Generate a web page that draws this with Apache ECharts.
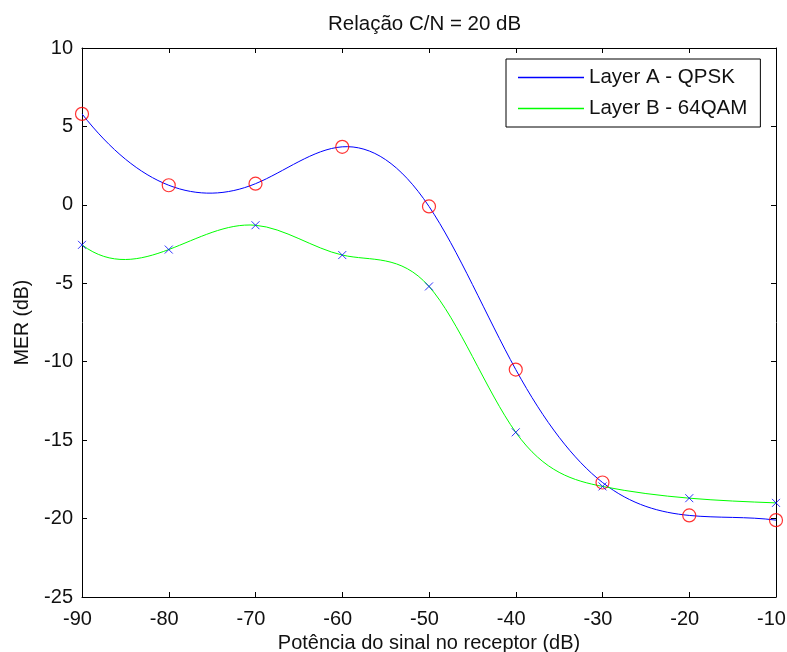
<!DOCTYPE html>
<html>
<head>
<meta charset="utf-8">
<script src="https://cdn.jsdelivr.net/npm/echarts@6/dist/echarts.min.js"></script>
<style>
  html, body { margin: 0; padding: 0; background: #fff; }
  #chart { width: 787px; height: 652px; }
</style>
</head>
<body>
<div id="chart"></div>
<script>
// Received signal power (dB) on the x axis
const potencia = [-90, -80, -70, -60, -50, -40, -30, -20, -10];
// MER (dB) measured for each hierarchical layer
const layerA = [5.8, 1.25, 1.35, 3.7, -0.1, -10.5, -17.7, -19.8, -20.1];
const layerB = [-2.55, -2.85, -1.3, -3.2, -5.2, -14.5, -17.95, -18.7, -19.0];

const nomeA = 'Layer A - QPSK';
const nomeB = 'Layer B - 64QAM';

const pares = (ys) => potencia.map((x, i) => [x, ys[i]]);

// Node slopes of a not-a-knot cubic spline (Hermite form), so each segment
// can be drawn as one cubic Bezier through the measured points.
function declives(xs, ys) {
  const n = xs.length;
  const h = [], d = [];
  for (let i = 0; i < n - 1; i++) { h.push(xs[i + 1] - xs[i]); d.push((ys[i + 1] - ys[i]) / h[i]); }
  const A = [], b = [];
  for (let i = 0; i < n; i++) { A.push(new Array(n).fill(0)); b.push(0); }
  // left end: third derivative continuous at the second node
  A[0][0] = 1 / (h[0] * h[0]); A[0][1] = 1 / (h[0] * h[0]) - 1 / (h[1] * h[1]); A[0][2] = -1 / (h[1] * h[1]);
  b[0] = 2 * d[0] / (h[0] * h[0]) - 2 * d[1] / (h[1] * h[1]);
  for (let i = 1; i < n - 1; i++) {
    A[i][i - 1] = h[i]; A[i][i] = 2 * (h[i - 1] + h[i]); A[i][i + 1] = h[i - 1];
    b[i] = 3 * (h[i] * d[i - 1] + h[i - 1] * d[i]);
  }
  // right end: same condition at the second-to-last node
  const p = n - 3, q = n - 2;
  A[n - 1][n - 3] = 1 / (h[p] * h[p]); A[n - 1][n - 2] = 1 / (h[p] * h[p]) - 1 / (h[q] * h[q]); A[n - 1][n - 1] = -1 / (h[q] * h[q]);
  b[n - 1] = 2 * d[p] / (h[p] * h[p]) - 2 * d[q] / (h[q] * h[q]);
  // Gaussian elimination with partial pivoting
  for (let c = 0; c < n; c++) {
    let piv = c;
    for (let r = c + 1; r < n; r++) if (Math.abs(A[r][c]) > Math.abs(A[piv][c])) piv = r;
    [A[c], A[piv]] = [A[piv], A[c]]; [b[c], b[piv]] = [b[piv], b[c]];
    for (let r = c + 1; r < n; r++) {
      const f = A[r][c] / A[c][c];
      if (!f) continue;
      for (let k = c; k < n; k++) A[r][k] -= f * A[c][k];
      b[r] -= f * b[c];
    }
  }
  const m = new Array(n).fill(0);
  for (let r = n - 1; r >= 0; r--) {
    let s = b[r];
    for (let k = r + 1; k < n; k++) s -= A[r][k] * m[k];
    m[r] = s / A[r][r];
  }
  return m;
}

function curvaSpline(nome, ys, cor) {
  const m = declives(potencia, ys);
  return {
    name: nome, type: 'custom', data: pares(ys), z: 2,
    itemStyle: { color: cor },
    encode: { x: 0, y: 1 },
    renderItem: (params, api) => {
      const i = params.dataIndex;
      if (i >= potencia.length - 1) return null;
      const x0 = potencia[i], x1 = potencia[i + 1], h = x1 - x0;
      const p0 = api.coord([x0, ys[i]]);
      const p1 = api.coord([x1, ys[i + 1]]);
      const c0 = api.coord([x0 + h / 3, ys[i] + m[i] * h / 3]);
      const c1 = api.coord([x1 - h / 3, ys[i + 1] - m[i + 1] * h / 3]);
      return {
        type: 'bezierCurve',
        shape: { x1: p0[0], y1: p0[1], x2: p1[0], y2: p1[1], cpx1: c0[0], cpy1: c0[1], cpx2: c1[0], cpy2: c1[1] },
        style: { stroke: cor, fill: null, lineWidth: 1 }
      };
    }
  };
}

const fonte = 'Liberation Sans, Arial, Helvetica, sans-serif';
const corTexto = '#111';
const tam = 20;

const eixoX = (pos, show) => ({
  type: 'value', position: pos, min: -90, max: -10, interval: 10,
  axisLine: { show: true, onZero: false, lineStyle: { color: '#000', width: 1 } },
  axisTick: { show: true, inside: true, length: 5, lineStyle: { color: '#000' } },
  axisLabel: {
    show: show, color: corTexto, fontSize: tam, fontFamily: fonte, margin: 12,
    padding: [0, 9, 0, 0], hideOverlap: false
  },
  splitLine: { show: false }
});
const eixoY = (pos, show) => ({
  type: 'value', position: pos, min: -25, max: 10, interval: 5,
  axisLine: { show: true, onZero: false, lineStyle: { color: '#000', width: 1 } },
  axisTick: { show: true, inside: true, length: 5, lineStyle: { color: '#000' } },
  axisLabel: { show: show, color: corTexto, fontSize: tam, fontFamily: fonte, margin: 9, hideOverlap: false },
  splitLine: { show: false }
});

const xInferior = Object.assign(eixoX('bottom', true), {
  name: 'Potência do sinal no receptor (dB)', nameLocation: 'middle', nameGap: 34,
  nameTextStyle: { color: corTexto, fontSize: tam, fontFamily: fonte }
});
const yEsquerdo = Object.assign(eixoY('left', true), {
  name: 'MER (dB)', nameLocation: 'middle', nameGap: 49,
  nameTextStyle: { color: corTexto, fontSize: 19.5, fontFamily: fonte }
});

const chart = echarts.init(document.getElementById('chart'), null, { renderer: 'canvas' });
chart.setOption({
  animation: false,
  backgroundColor: '#fff',
  title: {
    text: 'Relação C/N = 20 dB', left: 325, top: 11,
    padding: 3,
    textStyle: { color: corTexto, fontSize: 20.5, fontWeight: 'normal', fontFamily: fonte }
  },
  grid: { left: 82, right: 11, top: 48, bottom: 55, containLabel: false, outerBoundsMode: 'none' },
  legend: {
    orient: 'vertical', left: 506, top: 59,
    data: [nomeA, nomeB],
    icon: 'rect',
    backgroundColor: '#fff', borderColor: '#000', borderWidth: 1,
    padding: [8, 13, 8, 12], itemGap: 10, itemWidth: 66, itemHeight: 1.5,
    textStyle: { color: corTexto, fontSize: 20.5, fontFamily: fonte }
  },
  xAxis: [xInferior, eixoX('top', false)],
  yAxis: [yEsquerdo, eixoY('right', false)],
  series: [
    curvaSpline(nomeA, layerA, '#0000ff'),
    curvaSpline(nomeB, layerB, '#00ff00'),
    {
      name: 'markersA', type: 'scatter', data: pares(layerA), symbol: 'circle', symbolSize: 13,
      itemStyle: { color: 'rgba(0,0,0,0)', borderColor: '#ff0000', borderWidth: 1.2 }, z: 3
    },
    {
      name: 'markersB', type: 'scatter', data: pares(layerB),
      symbol: 'path://M0,0L10,10M10,0L0,10', symbolSize: 8,
      itemStyle: { color: 'rgba(0,0,0,0)', borderColor: '#0000ff', borderWidth: 1 }, z: 3
    }
  ]
});
</script>
</body>
</html>
